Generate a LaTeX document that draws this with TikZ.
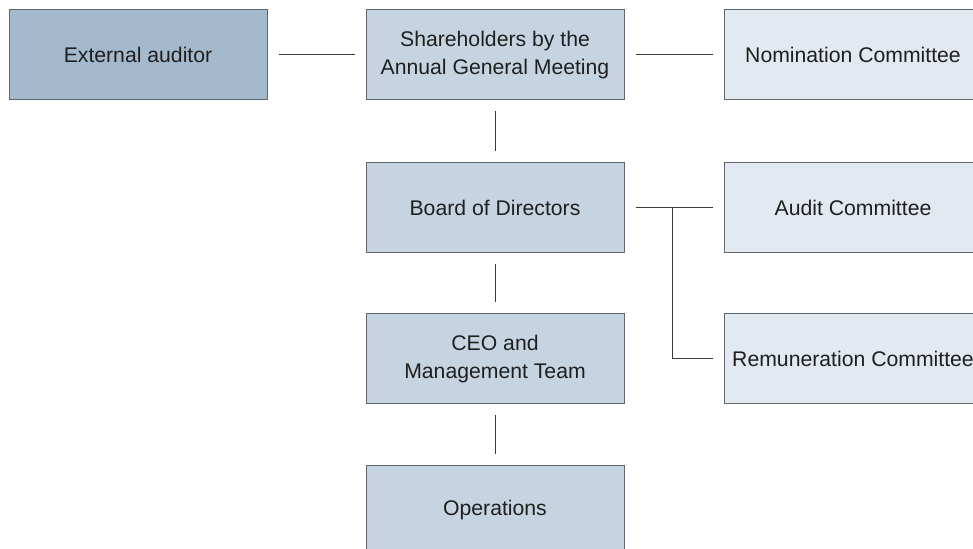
\documentclass[tikz,border=0pt]{standalone}
\usepackage{fontspec}
\setmainfont{Liberation Sans}
\usepackage{xcolor}
\usepackage{tikz}
\usetikzlibrary{positioning, calc}
\definecolor{auditorblue}{HTML}{A4B9CC}
\definecolor{mainblue}{HTML}{C6D4E1}
\definecolor{paleblue}{HTML}{E2E9F0}
\definecolor{edgegray}{HTML}{5E6670}
\definecolor{linegray}{HTML}{3A3A3A}

\begin{document}
\begin{tikzpicture}[x=0.5pt, y=-0.5pt,
	box/.style={draw=edgegray, line width=0.5pt, minimum width=129pt, minimum height=45pt,
		align=center, text=black!88, font=\fontsize{10.6}{13.8}\selectfont, inner sep=0pt},
	link/.style={draw=linegray, line width=0.5pt, shorten >=5.5pt, shorten <=5.5pt}]
	\clip (0,0) rectangle (973,549);
	\useasboundingbox (0,0) rectangle (973,549);

	\node[box, fill=auditorblue] (auditor) at (138,55) {External auditor};
	\node[box, fill=mainblue] (agm) at (495,55) {Shareholders by the\\Annual General Meeting};
	\node[box, fill=paleblue] (nomination) at (853,55) {Nomination Committee};

	\node[box, fill=mainblue] (board) at (495,208) {Board of Directors};
	\node[box, fill=paleblue] (audit) at (853,208) {Audit Committee};

	\node[box, fill=mainblue] (ceo) at (495,359) {CEO and\\Management Team};
	\node[box, fill=paleblue] (remuneration) at (853,359) {Remuneration Committee};

	\node[box, fill=mainblue] (operations) at (495,510) {Operations};

	\coordinate (split) at (672,208);

	\draw[link] (auditor) -- (agm);
	\draw[link] (agm) -- (nomination);
	\draw[link] (agm) -- (board);
	\draw[link] (board) -- (audit);
	\draw[link, shorten <=0pt] (split) |- (remuneration);
	\draw[link] (board) -- (ceo);
	\draw[link] (ceo) -- (operations);
\end{tikzpicture}
\end{document}
